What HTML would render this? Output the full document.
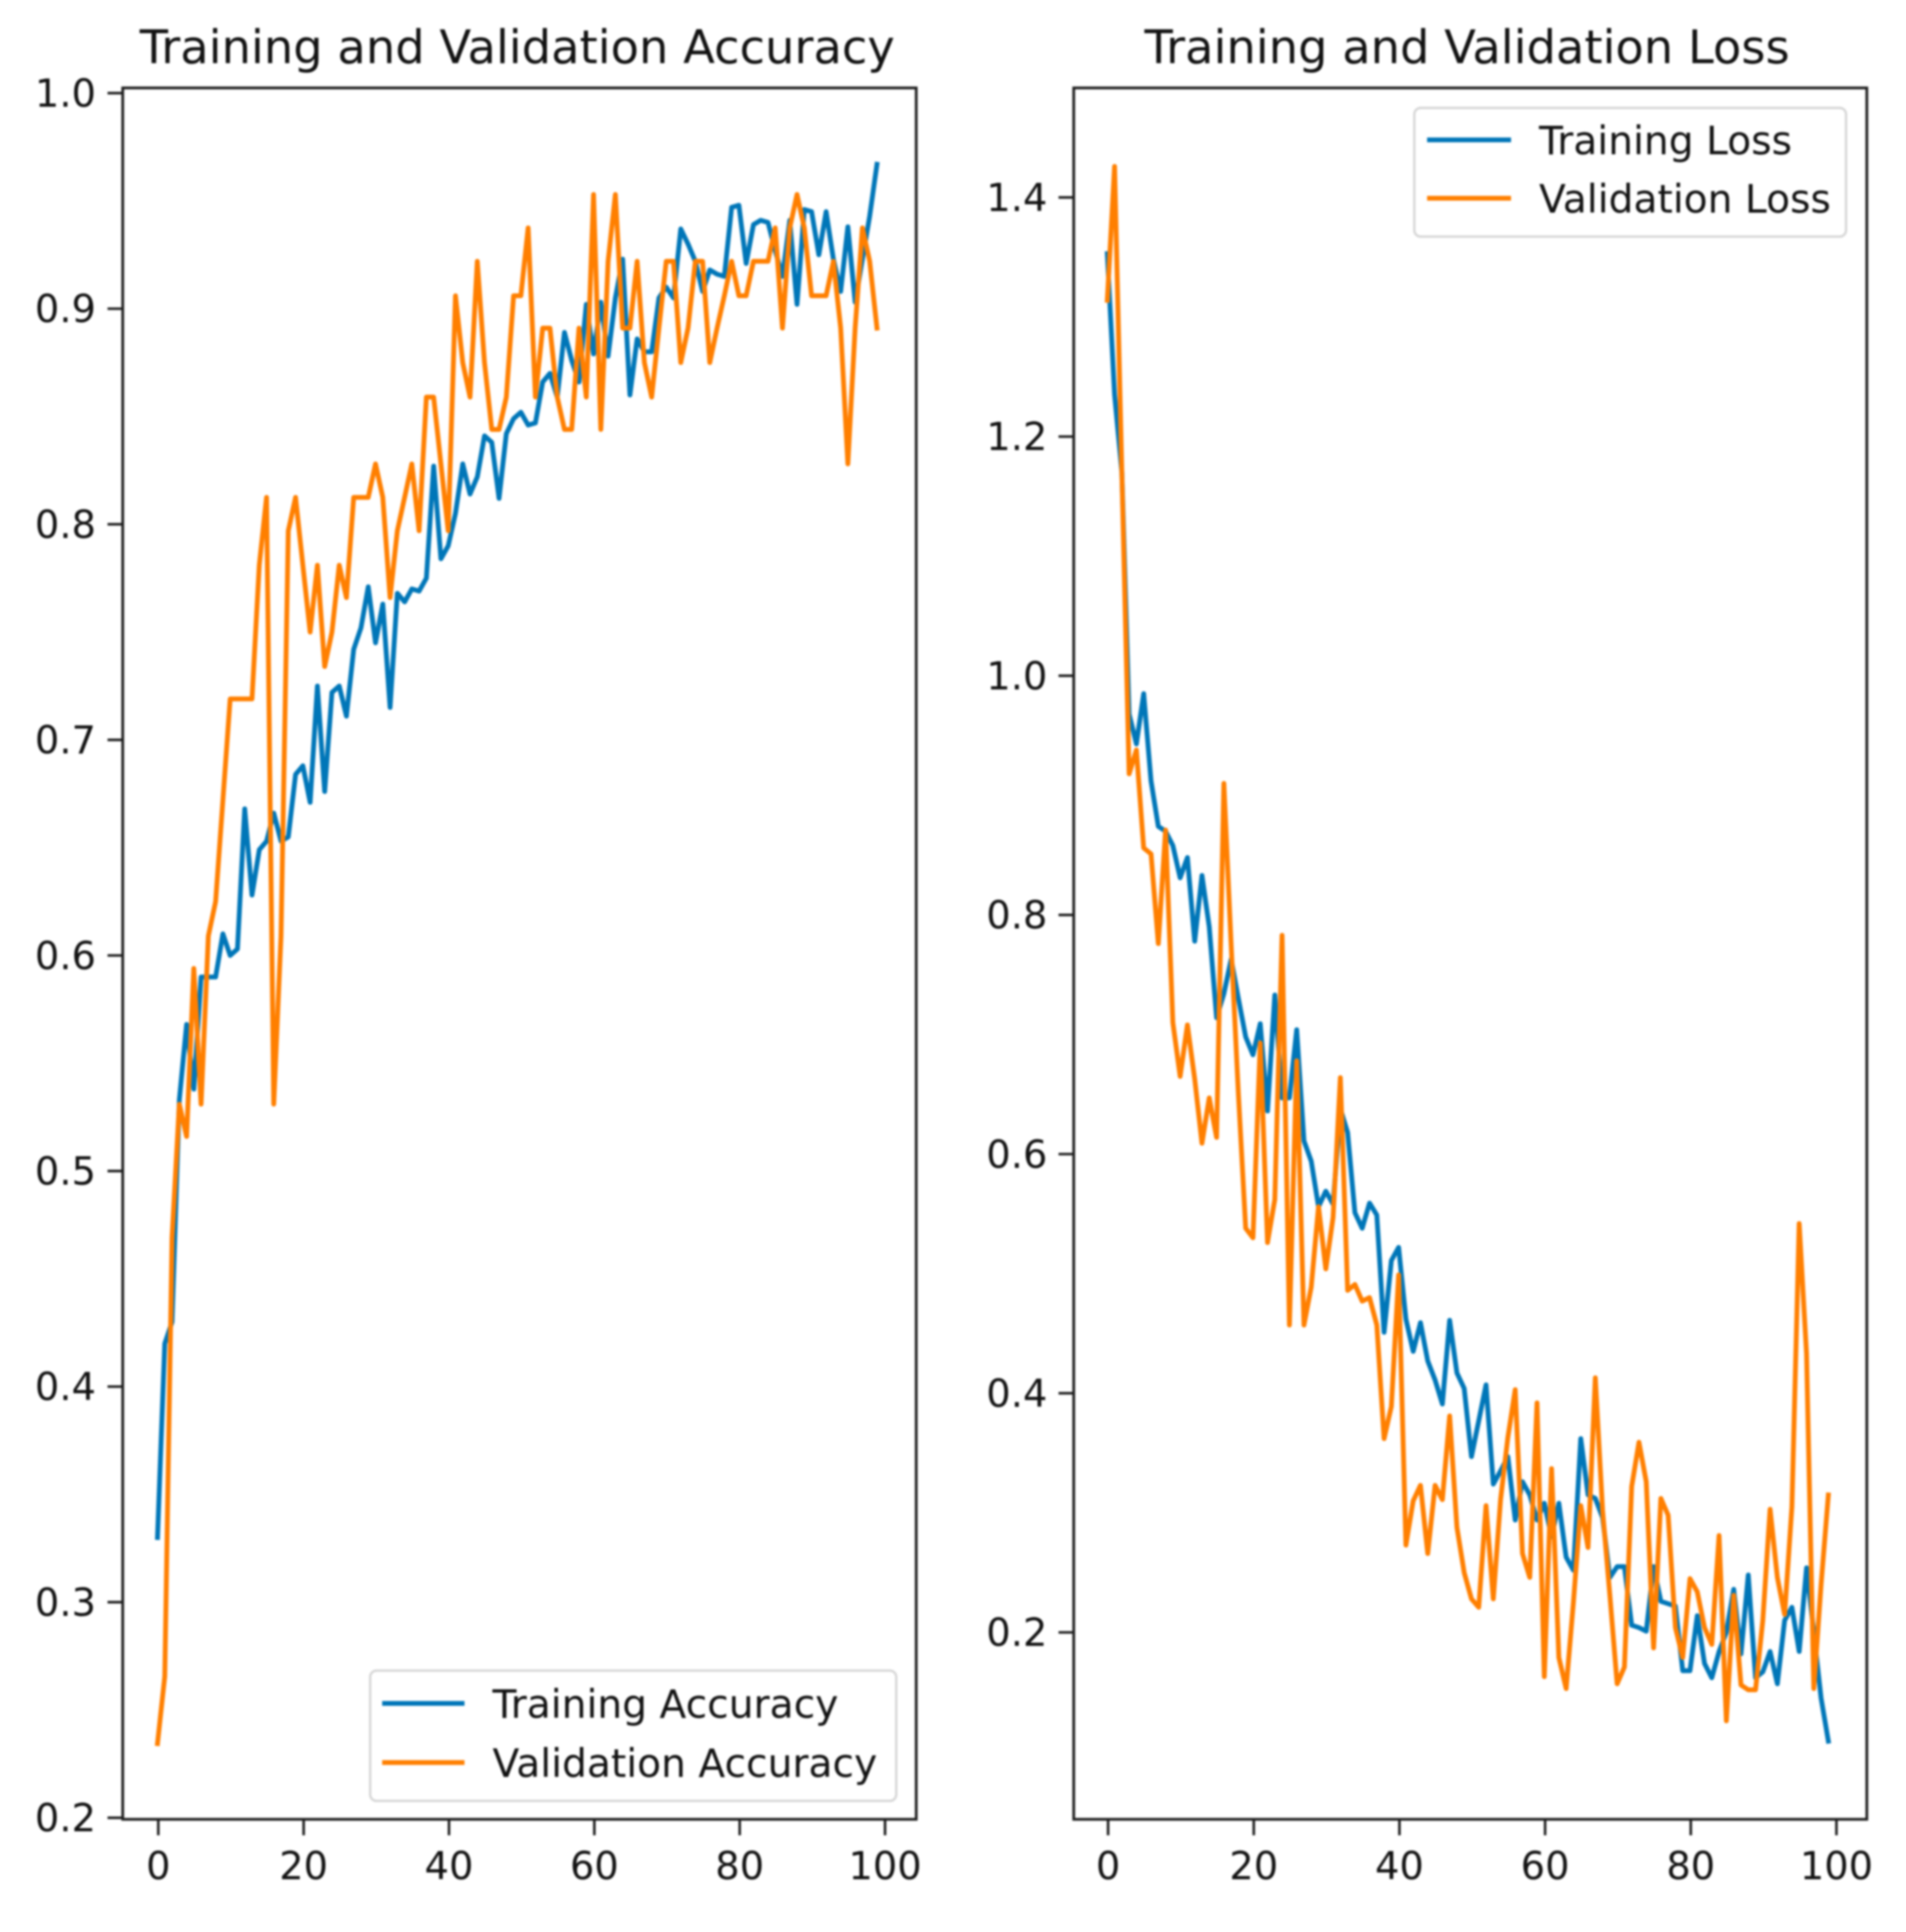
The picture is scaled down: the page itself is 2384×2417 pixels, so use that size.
<!DOCTYPE html>
<html lang="en">
<head>
<meta charset="utf-8">
<title>Training and Validation Accuracy and Loss</title>
<style>
html,body{margin:0;padding:0;background:#fff;width:2384px;height:2417px;overflow:hidden}
svg{display:block;filter:blur(1.2px)}
text{font-family:"DejaVu Sans","Liberation Sans",sans-serif;fill:#111}
.title{font-size:58px}
.tick{font-size:48px}
.legend{font-size:49px}
</style>
</head>
<body>
<svg id="figure" xmlns="http://www.w3.org/2000/svg" width="2384" height="2417" viewBox="0 0 2384 2417">
  <rect x="0" y="0" width="2384" height="2417" fill="#ffffff"/>
  <text class="title" x="647" y="79" text-anchor="middle">Training and Validation Accuracy</text>
  <text class="title" x="1835" y="79" text-anchor="middle">Training and Validation Loss</text>
  <g id="acc-panel"></g>
  <g id="loss-panel"></g>
  <g>
    <rect x="463" y="2090" width="658" height="163" rx="8" fill="#ffffff" fill-opacity="0.85" stroke="#d6d6d6" stroke-width="3"/>
    <line x1="478" y1="2131" x2="581" y2="2131" stroke="#0076b8" stroke-width="6"/>
    <text class="legend" x="616" y="2149">Training Accuracy</text>
    <line x1="478" y1="2205" x2="581" y2="2205" stroke="#ff7f00" stroke-width="6"/>
    <text class="legend" x="616" y="2223">Validation Accuracy</text>
  </g>
  <g>
    <rect x="1769" y="135" width="540" height="161" rx="8" fill="#ffffff" fill-opacity="0.85" stroke="#d6d6d6" stroke-width="3"/>
    <line x1="1785" y1="175" x2="1890" y2="175" stroke="#0076b8" stroke-width="6"/>
    <text class="legend" x="1925" y="193">Training Loss</text>
    <line x1="1785" y1="248" x2="1890" y2="248" stroke="#ff7f00" stroke-width="6"/>
    <text class="legend" x="1925" y="266">Validation Loss</text>
  </g>
</svg>
<script>
const trainingAccuracy = [.33,.42,.43,.533,.568,.538,.59,.59,.59,.61,.6,.603,.668,.628,.649,.653,.666,.653,.655,.684,.688,.671,.725,.676,.722,.725,.711,.742,.752,.771,.745,.763,.715,.768,.764,.77,.769,.775,.827,.784,.79,.805,.828,.814,.822,.841,.838,.812,.842,.849,.852,.846,.847,.866,.87,.859,.889,.876,.866,.902,.879,.903,.878,.905,.923,.86,.886,.88,.88,.905,.91,.905,.937,.93,.922,.908,.918,.916,.915,.947,.948,.921,.939,.941,.94,.927,.915,.941,.902,.946,.945,.925,.945,.923,.908,.938,.903,.923,.943,.967];
const validationAccuracy = [.2344,.2656,.469,.531,.516,.594,.531,.609,.625,.672,.719,.719,.719,.719,.781,.8125,.531,.609,.797,.8125,.781,.75,.781,.734,.75,.781,.766,.8125,.8125,.8125,.828,.8125,.766,.797,.8125,.828,.797,.859,.859,.828,.797,.906,.875,.859,.922,.875,.844,.844,.859,.906,.906,.9375,.859,.891,.891,.859,.844,.844,.891,.859,.953,.844,.922,.953,.891,.891,.922,.875,.859,.891,.922,.922,.875,.891,.922,.922,.875,.891,.906,.922,.906,.906,.922,.922,.922,.9375,.891,.9375,.953,.9375,.906,.906,.906,.922,.891,.828,.891,.9375,.922,.891];
const trainingLoss = [1.353,1.235,1.17,.968,.943,.985,.912,.874,.87,.858,.831,.848,.778,.833,.79,.714,.734,.763,.73,.698,.683,.709,.636,.733,.647,.647,.704,.611,.594,.556,.569,.558,.638,.618,.551,.538,.559,.549,.451,.511,.522,.462,.435,.459,.427,.411,.391,.461,.417,.404,.347,.377,.407,.324,.335,.347,.294,.326,.315,.294,.308,.28,.308,.263,.252,.362,.315,.312,.296,.246,.255,.255,.206,.204,.201,.255,.226,.224,.222,.168,.168,.214,.174,.162,.184,.2,.236,.182,.248,.162,.167,.184,.157,.21,.221,.184,.254,.2,.145,.109];
const validationLoss = [1.314,1.426,1.17,.918,.938,.856,.851,.776,.871,.71,.665,.708,.663,.609,.647,.614,.91,.775,.65,.538,.53,.693,.526,.562,.783,.457,.678,.457,.489,.556,.504,.547,.664,.486,.491,.477,.48,.457,.362,.389,.499,.273,.31,.323,.266,.323,.311,.381,.288,.25,.228,.221,.306,.228,.311,.363,.403,.266,.246,.392,.163,.337,.179,.153,.225,.306,.271,.413,.302,.231,.157,.171,.322,.359,.326,.187,.312,.298,.204,.179,.245,.234,.204,.19,.281,.126,.231,.156,.152,.152,.21,.303,.246,.215,.305,.542,.433,.153,.24,.315];
const epochTicks = [0,20,40,60,80,100];
const accuracyTicks = [0.2,0.3,0.4,0.5,0.6,0.7,0.8,0.9,1.0];
const lossTicks = [0.2,0.4,0.6,0.8,1.0,1.2,1.4];

const SVG_NS = 'http://www.w3.org/2000/svg';
const BLUE = '#0076b8';
const ORANGE = '#ff7f00';

function accX(e){ return 197 + 9.09 * e; }
function accY(v){ return 116.5 + (1 - v) * 2697; }
function lossX(e){ return 1385 + 9.11 * e; }
function lossY(v){ return 247 + (1.4 - v) * 1496; }

function make(tag, props){
  const el = document.createElementNS(SVG_NS, tag);
  for (const k in props) el.setAttribute(k, props[k]);
  return el;
}

function drawSeries(parent, values, xf, yf, color, name){
  const pts = values.map(function(v, i){ return xf(i).toFixed(1) + ',' + yf(v).toFixed(1); }).join(' ');
  const line = make('polyline', {points: pts, fill: 'none', stroke: color, 'stroke-width': 6, 'stroke-linejoin': 'round', 'stroke-linecap': 'square'});
  
  
  parent.appendChild(line);
}

function drawAxes(parent, box, xf, yf, yTicks, yLabelX, prefix){
  const frame = make('rect', {x: box.l, y: box.t, width: box.r - box.l, height: box.b - box.t, fill: 'none', stroke: '#1c1c1c', 'stroke-width': 3.4});
  
  
  parent.appendChild(frame);

  epochTicks.forEach(function(t){
    const x = xf(t) + 1;
    const mark = make('line', {x1: x, y1: box.b, x2: x, y2: box.b + 20, stroke: '#1c1c1c', 'stroke-width': 3.2});
    
    
    parent.appendChild(mark);
    const label = make('text', {x: x, y: 2351, 'text-anchor': 'middle', class: 'tick'});
    
    
    label.textContent = String(t);
    parent.appendChild(label);
  });

  yTicks.forEach(function(t){
    const y = yf(t);
    const mark = make('line', {x1: box.l - 19, y1: y, x2: box.l, y2: y, stroke: '#1c1c1c', 'stroke-width': 3.2});
    
    
    parent.appendChild(mark);
    const label = make('text', {x: yLabelX, y: y + 17, 'text-anchor': 'end', class: 'tick'});
    
    
    label.textContent = t.toFixed(1);
    parent.appendChild(label);
  });
}

const accPanel = document.getElementById('acc-panel');
drawSeries(accPanel, trainingAccuracy, accX, accY, BLUE, 'training-accuracy-line');
drawSeries(accPanel, validationAccuracy, accX, accY, ORANGE, 'validation-accuracy-line');
drawAxes(accPanel, {l: 153.5, r: 1146, t: 110, b: 2276}, accX, accY, accuracyTicks, 120, 'accuracy');

const lossPanel = document.getElementById('loss-panel');
drawSeries(lossPanel, trainingLoss, lossX, lossY, BLUE, 'training-loss-line');
drawSeries(lossPanel, validationLoss, lossX, lossY, ORANGE, 'validation-loss-line');
drawAxes(lossPanel, {l: 1343, r: 2335, t: 110, b: 2276}, lossX, lossY, lossTicks, 1310, 'loss');
</script>
</body>
</html>
